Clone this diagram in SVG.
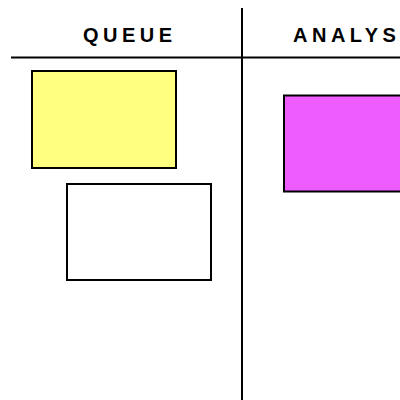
<svg xmlns="http://www.w3.org/2000/svg" width="400" height="400" viewBox="0 0 400 400">
<style>
.hdr{font-family:"Liberation Sans",Arial,sans-serif;font-size:20px;font-weight:bold;fill:#000;letter-spacing:4.5px}
.card{stroke:#000;stroke-width:2}
.grid{stroke:#000;stroke-width:2;fill:none}
</style>
<rect width="400" height="400" fill="#fff"/>
<g id="connectors">
<line class="grid" x1="242" y1="8" x2="242" y2="400"/>
<line class="grid" x1="11" y1="57.5" x2="400" y2="57.5"/>
</g>
<g id="header-queue"><text class="hdr" x="83" y="42">QUEUE</text></g>
<g id="header-analysis"><text class="hdr" x="293" y="42">ANALYS</text></g>
<g id="card-yellow"><rect class="card" x="32" y="71" width="144" height="97" fill="#ffff80"/></g>
<g id="card-white"><rect class="card" x="67" y="184" width="144" height="96" fill="#fff"/></g>
<g id="card-magenta"><rect class="card" x="284" y="95.5" width="145" height="96" fill="#ee5cff"/></g>
</svg>
